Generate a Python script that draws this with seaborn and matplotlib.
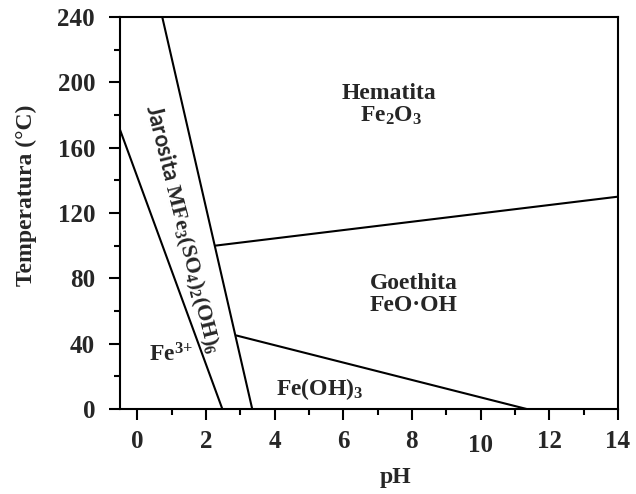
import matplotlib
matplotlib.use("Agg")
import matplotlib.pyplot as plt
import seaborn as sns
import pandas as pd

# ---- data ----
boundary_names = ["Fe3+/Jarosita", "Jarosita/Oxidos", "Hematita/Goethita", "Goethita/Fe(OH)3"]
ph_start = [-0.5, 0.73, 2.27, 2.89]
t_start = [171.0, 240.0, 100.0, 45.0]
ph_end = [2.48, 3.35, 14.0, 11.34]
t_end = [0.0, 0.0, 130.0, 0.0]

region_labels = ["Hematita", r"$\mathbf{Fe_2O_3}$", "Goethita", "FeO·OH",
                 r"$\mathbf{Fe^{3\!+}}$", r"$\mathbf{Fe(OH)_3}$"]
region_ph = [7.33, 7.38, 8.05, 8.05, 0.99, 5.3]
region_t = [192.9, 179.5, 77.0, 63.5, 33.0, 12.5]

jarosita_label = r"$\mathsf{Jarosita}\ \mathrm{MFe_3}\mathbf{(SO_4)_2(OH)_6}$"
jarosita_pos = (1.30, 110.0)

x_ticks = [0, 2, 4, 6, 8, 10, 12, 14]
y_ticks = [0, 40, 80, 120, 160, 200, 240]

# ---- style ----
sns.set_style("white")
plt.rcParams["font.family"] = ["Liberation Serif", "DejaVu Serif"]
plt.rcParams["font.weight"] = "bold"
plt.rcParams["mathtext.fontset"] = "custom"
plt.rcParams["mathtext.rm"] = "Liberation Serif"
plt.rcParams["mathtext.bf"] = "Liberation Serif:bold"
plt.rcParams["mathtext.it"] = "Liberation Serif:italic"
plt.rcParams["mathtext.sf"] = "Lato:bold"

rows = []
for name, x0, y0, x1, y1 in zip(boundary_names, ph_start, t_start, ph_end, t_end):
    rows.append({"boundary": name, "pH": x0, "T": y0})
    rows.append({"boundary": name, "pH": x1, "T": y1})
df = pd.DataFrame(rows)

fig = plt.figure(figsize=(6.36, 4.94), dpi=100)
ax = fig.add_axes([120 / 636, 1 - 409 / 494, 498 / 636, 392 / 494])

sns.lineplot(data=df, x="pH", y="T", units="boundary", estimator=None, sort=False,
             color="black", linewidth=1.5, ax=ax, legend=False)

ax.set_xlim(-0.5, 14)
ax.set_ylim(0, 240)
ax.set_xticks(x_ticks)
ax.set_xticks(range(1, 14, 2), minor=True)
ax.set_yticks(y_ticks)
ax.set_yticks(range(20, 240, 40), minor=True)
ax.set_xticklabels([str(v) for v in x_ticks], fontsize=18, fontweight="bold")
ax.set_yticklabels([str(v) for v in y_ticks], fontsize=18, fontweight="bold")

ax.tick_params(axis="both", which="major", direction="out", length=8, width=1.5,
               color="black", bottom=True, left=True, top=False, right=False)
ax.tick_params(axis="both", which="minor", direction="out", length=4.5, width=1.5,
               color="black", bottom=True, left=True, top=False, right=False)
ax.tick_params(axis="x", which="major", pad=7)
ax.tick_params(axis="y", which="major", pad=10)

for sp in ax.spines.values():
    sp.set_visible(True)
    sp.set_color("black")
    sp.set_linewidth(1.5)

ax.set_xlabel("pH", fontsize=17, fontweight="bold")
ax.set_ylabel("Temperatura (°C)", fontsize=17, fontweight="bold")
ax.xaxis.label.set_va("center")
ax.yaxis.label.set_va("center")
ax.xaxis.set_label_coords(0.554, -0.176)
ax.yaxis.set_label_coords(-0.187, 0.546)

# "10" tick label sits slightly lower in the reference
for tick in ax.xaxis.get_major_ticks():
    if tick.label1.get_text() == "10":
        tick.set_pad(10)

for txt, px, py in zip(region_labels, region_ph, region_t):
    ax.text(px, py, txt, fontsize=17, fontweight="bold", ha="center", va="center")

ax.text(jarosita_pos[0], jarosita_pos[1], jarosita_label, fontsize=16,
        rotation=-76, rotation_mode="anchor", ha="center", va="center")

fig.savefig("out.png", dpi=100)
